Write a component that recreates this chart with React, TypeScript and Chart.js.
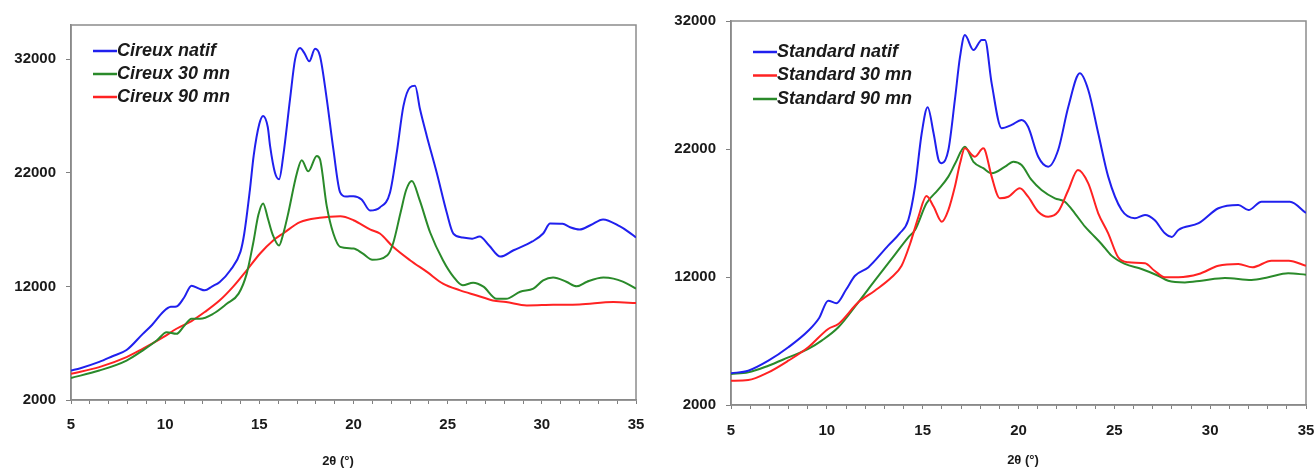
import React, { useEffect, useRef } from "react";
import { Chart, registerables } from "chart.js";

Chart.register(...registerables);

// ---------- Data ----------
const xTickLabels = [5, 10, 15, 20, 25, 30, 35];
const xMinorTicks = [5, 6, 7, 8, 9, 10, 11, 12, 13, 14, 15, 16, 17, 18, 19, 20, 21, 22, 23, 24, 25, 26, 27, 28, 29, 30, 31, 32, 33, 34, 35];
const yTickValues = [2000, 12000, 22000, 32000];
const xTitle = "2θ (°)";

const cireuxNatif: [number, number][] = [
  [5, 4600], [5.5, 4800], [6.5, 5350], [7.2, 5850], [7.95, 6400], [8.8, 7800], [9.3, 8600], [9.9, 9770],
  [10.3, 10200], [10.6, 10230], [11.0, 11000], [11.4, 12060], [11.8, 11800], [12.1, 11650], [12.5, 12000],
  [12.9, 12390], [13.45, 13400], [14.0, 15060], [14.2, 16650], [14.5, 20500], [14.7, 23500], [15.0, 26300],
  [15.2, 27000], [15.45, 26000], [15.57, 24360], [15.83, 22000], [16.05, 21420], [16.27, 23480], [16.63, 28480],
  [16.9, 32000], [17.16, 32980], [17.4, 32500], [17.65, 31800], [17.96, 32900], [18.22, 32270], [18.58, 28480],
  [18.93, 24070], [19.29, 20270], [19.6, 19900], [20.0, 19940], [20.43, 19650], [20.88, 18680], [21.4, 18950],
  [21.94, 20270], [22.3, 23800], [22.65, 27860], [23.0, 29510], [23.27, 29650], [23.53, 27600], [23.89, 25240],
  [24.42, 22000], [24.95, 18500], [25.3, 16650], [25.8, 16300], [26.3, 16200], [26.7, 16390], [27.2, 15600],
  [27.8, 14620], [28.5, 15180], [29.5, 15950], [30.07, 16650], [30.44, 17530], [31.1, 17500], [31.5, 17200],
  [32.0, 17000], [32.6, 17400], [33.25, 17890], [34.15, 17270], [34.6, 16800], [35, 16300],
];

const cireux30: [number, number][] = [
  [5, 3940], [6.5, 4590], [7.95, 5470], [8.8, 6350], [9.55, 7230], [10.08, 7970], [10.6, 7820], [11.0, 8500],
  [11.4, 9150], [11.85, 9150], [12.55, 9590], [13.27, 10470], [13.9, 11360], [14.33, 13120], [14.67, 15770],
  [14.95, 18300], [15.2, 19300], [15.45, 18000], [15.7, 16600], [16.05, 15600], [16.25, 16500], [16.5, 18180],
  [17.0, 22000], [17.25, 23100], [17.6, 22120], [18.05, 23480], [18.22, 23180], [18.58, 19060], [18.93, 16650],
  [19.29, 15480], [20.0, 15330], [20.5, 14880], [21.0, 14350], [21.8, 14740], [22.1, 15770], [22.5, 18500],
  [22.8, 20500], [23.1, 21270], [23.5, 19650], [24.07, 16740], [24.75, 14300], [25.3, 12860], [25.8, 12090],
  [26.35, 12320], [26.9, 11970], [27.6, 10910], [28.1, 10910], [28.85, 11530], [29.55, 11800], [30.07, 12530],
  [30.6, 12770], [31.3, 12410], [31.85, 12000], [32.4, 12410], [33.27, 12770], [33.8, 12680], [34.3, 12410],
  [35, 11800],
];

const cireux90: [number, number][] = [
  [5, 4300], [6.5, 4890], [7.95, 5770], [8.8, 6500], [9.9, 7530], [10.6, 8270], [11.4, 8950], [12.1, 9740],
  [12.9, 10770], [13.6, 11950], [14.33, 13410], [15.04, 14890], [15.75, 16060], [16.3, 16700], [17.16, 17650],
  [18.2, 18030], [19.3, 18170], [20.0, 17820], [20.9, 17000], [21.4, 16650], [22.1, 15480], [23.0, 14300],
  [23.9, 13270], [24.75, 12240], [25.66, 11650], [26.55, 11200], [27.4, 10760], [28.1, 10620], [29.2, 10320],
  [30.6, 10380], [32.0, 10410], [33.8, 10620], [35, 10530],
];

const standardNatif: [number, number][] = [
  [5, 4480], [5.9, 4680], [6.95, 5460], [7.99, 6510], [9.03, 7800], [9.6, 8800], [10.07, 10150], [10.5, 9950],
  [11.0, 11000], [11.47, 12100], [12.16, 12750], [13.2, 14450], [13.8, 15400], [14.25, 16450], [14.6, 19050],
  [14.95, 23230], [15.26, 25260], [15.57, 23230], [15.83, 21140], [16.0, 20880], [16.34, 21920], [16.68, 25830],
  [16.95, 29210], [17.2, 30900], [17.65, 29730], [18.08, 30520], [18.25, 30520], [18.6, 27130], [19.12, 23620],
  [19.64, 23880], [20.16, 24270], [20.5, 23740], [21.03, 21400], [21.55, 20620], [22.07, 21920], [22.6, 25300],
  [23.2, 27910], [23.64, 26610], [24.16, 23230], [24.68, 19840], [25.38, 17230], [26.07, 16590], [26.6, 16840],
  [27.1, 16450], [27.64, 15410], [28.0, 15130], [28.34, 15670], [29.4, 16200], [30.43, 17370], [31.47, 17630],
  [32.0, 17230], [32.68, 17880], [33.38, 17880], [34.16, 17880], [35, 17000],
];

const standard30: [number, number][] = [
  [5, 3900], [5.9, 3950], [6.95, 4550], [7.99, 5460], [9.03, 6510], [10.07, 7940], [10.6, 8330], [11.64, 10020],
  [12.5, 10930], [13.38, 11980], [13.9, 12880], [14.34, 14580], [14.78, 16710], [15.2, 18330], [15.57, 17500],
  [16.0, 16320], [16.34, 17230], [16.68, 19050], [16.95, 20880], [17.2, 22050], [17.73, 21400], [18.16, 22050],
  [18.25, 21920], [18.6, 19840], [19.03, 18150], [19.47, 18270], [20.07, 18930], [20.5, 18270], [21.03, 17100],
  [21.55, 16710], [22.07, 17100], [22.6, 18800], [23.1, 20360], [23.64, 19320], [24.16, 16980], [24.68, 15410],
  [25.2, 13540], [25.73, 13150], [26.6, 13070], [27.1, 12490], [27.64, 11980], [28.34, 11980], [29.4, 12230],
  [30.43, 12880], [31.47, 13020], [32.2, 12760], [33.2, 13270], [34.1, 13270], [35, 12880],
];

const standard90: [number, number][] = [
  [5, 4420], [5.9, 4550], [6.95, 5070], [7.99, 5720], [9.03, 6380], [9.73, 7030], [10.6, 8070], [11.64, 10020],
  [12.5, 11710], [13.38, 13410], [14.25, 15100], [14.6, 15670], [15.2, 17760], [15.8, 18800], [16.34, 19840],
  [16.7, 20880], [17.2, 22180], [17.65, 21000], [18.16, 20500], [18.6, 20100], [19.3, 20620], [19.73, 21010],
  [20.16, 20750], [20.68, 19580], [21.2, 18800], [21.9, 18150], [22.42, 17880], [22.94, 16980], [23.47, 15930],
  [23.8, 15410], [24.33, 14580], [24.85, 13670], [25.55, 13020], [26.42, 12630], [27.29, 12100], [27.81, 11710],
  [28.68, 11580], [29.55, 11710], [30.77, 11920], [32.16, 11770], [33.03, 11980], [34.07, 12290], [35, 12180],
];

// ---------- Styling ----------
const BLUE = "#2020ee";
const GREEN = "#2a8a2a";
const RED = "#ff2222";
const FONT = "'Liberation Sans', Arial, sans-serif";
const AXIS_GRAY = "#808080";

type Series = { label: string; data: [number, number][]; color: string };

type PanelSpec = {
  series: Series[];
  yMax: number;
  padTop: number;
  padRight: number;
  yWidth: number;
  xHeight: number;
  xLabelPad: number;
  legendX: number;
  legendY: number;
  legendStep: number;
  titleX: number;
  titleY: number;
};

const framePlugin = {
  id: "plotFrame",
  beforeDatasetsDraw(chart: any) {
    const { ctx, chartArea } = chart;
    ctx.save();
    ctx.strokeStyle = "#8c8c8c";
    ctx.lineWidth = 1.5;
    ctx.strokeRect(chartArea.left, chartArea.top, chartArea.right - chartArea.left, chartArea.bottom - chartArea.top);
    ctx.restore();
  },
};

const overlayPlugin = {
  id: "overlayText",
  afterDraw(chart: any, _args: any, opts: any) {
    const { ctx } = chart;
    ctx.save();
    // legend
    ctx.font = `italic bold 18px ${FONT}`;
    ctx.textBaseline = "middle";
    ctx.textAlign = "left";
    chart.data.datasets.forEach((ds: any, i: number) => {
      const y = opts.legendY + i * opts.legendStep;
      ctx.strokeStyle = ds.borderColor;
      ctx.lineWidth = 2.5;
      ctx.beginPath();
      ctx.moveTo(opts.legendX, y);
      ctx.lineTo(opts.legendX + 24, y);
      ctx.stroke();
      ctx.fillStyle = "#1a1a1a";
      ctx.fillText(ds.label, opts.legendX + 24, y);
    });
    // x-axis title
    ctx.font = `bold 13px ${FONT}`;
    ctx.textAlign = "center";
    ctx.fillStyle = "#1a1a1a";
    ctx.fillText(opts.title, opts.titleX, opts.titleY);
    ctx.restore();
  },
};

function makeConfig(spec: PanelSpec): any {
  return {
    type: "line",
    data: {
      datasets: spec.series.map((s) => ({
        label: s.label,
        data: s.data.map(([x, y]) => ({ x, y })),
        borderColor: s.color,
        backgroundColor: s.color,
        borderWidth: 2,
        pointRadius: 0,
        fill: false,
        cubicInterpolationMode: "monotone",
      })),
    },
    options: {
      animation: false,
      responsive: false,
      devicePixelRatio: 1,
      layout: { padding: { top: spec.padTop, right: spec.padRight, left: 0, bottom: 0 } },
      plugins: {
        legend: { display: false },
        tooltip: { enabled: false },
        overlayText: {
          legendX: spec.legendX,
          legendY: spec.legendY,
          legendStep: spec.legendStep,
          title: xTitle,
          titleX: spec.titleX,
          titleY: spec.titleY,
        },
      },
      scales: {
        x: {
          type: "linear",
          min: 5,
          max: 35,
          afterBuildTicks: (axis: any) => {
            axis.ticks = xMinorTicks.map((v) => ({ value: v }));
          },
          afterFit: (scale: any) => {
            scale.height = spec.xHeight;
            scale.paddingLeft = 0;
            scale.paddingRight = 0;
          },
          ticks: {
            autoSkip: false,
            maxRotation: 0,
            padding: spec.xLabelPad,
            color: "#1a1a1a",
            font: { family: FONT, size: 15, weight: "bold" },
            callback: (v: number) => (xTickLabels.includes(v) ? String(v) : ""),
          },
          grid: { display: true, drawOnChartArea: false, drawTicks: true, tickLength: 4, color: AXIS_GRAY, lineWidth: 1 },
          border: { display: true, color: AXIS_GRAY, width: 1.5 },
        },
        y: {
          type: "linear",
          min: 2000,
          max: spec.yMax,
          afterBuildTicks: (axis: any) => {
            axis.ticks = yTickValues.map((v) => ({ value: v }));
          },
          afterFit: (scale: any) => {
            scale.width = spec.yWidth;
            scale.paddingTop = 0;
            scale.paddingBottom = 0;
          },
          ticks: {
            padding: 10,
            color: "#1a1a1a",
            font: { family: FONT, size: 15, weight: "bold" },
            callback: (v: number) => String(v),
          },
          grid: { display: true, drawOnChartArea: false, drawTicks: true, tickLength: 5, color: AXIS_GRAY, lineWidth: 1 },
          border: { display: true, color: AXIS_GRAY, width: 1.5 },
        },
      },
    },
    plugins: [framePlugin, overlayPlugin],
  };
}

const leftSpec: PanelSpec = {
  series: [
    { label: "Cireux natif", data: cireuxNatif, color: BLUE },
    { label: "Cireux 30 mn", data: cireux30, color: GREEN },
    { label: "Cireux 90 mn", data: cireux90, color: RED },
  ],
  yMax: 35000,
  padTop: 25,
  padRight: 14,
  yWidth: 71,
  xHeight: 68,
  xLabelPad: 12,
  legendX: 93,
  legendY: 51,
  legendStep: 23,
  titleX: 338,
  titleY: 461,
};

const rightSpec: PanelSpec = {
  series: [
    { label: "Standard natif", data: standardNatif, color: BLUE },
    { label: "Standard 30 mn", data: standard30, color: RED },
    { label: "Standard 90 mn", data: standard90, color: GREEN },
  ],
  yMax: 32000,
  padTop: 21,
  padRight: 10,
  yWidth: 81,
  xHeight: 63,
  xLabelPad: 13,
  legendX: 103,
  legendY: 52,
  legendStep: 23.5,
  titleX: 373,
  titleY: 460,
};

function Panel({ spec, left, width }: { spec: PanelSpec; left: number; width: number }) {
  const ref = useRef<HTMLCanvasElement | null>(null);
  useEffect(() => {
    if (!ref.current) return;
    const chart = new Chart(ref.current, makeConfig(spec));
    return () => chart.destroy();
  }, [spec]);
  return (
    <canvas
      ref={ref}
      width={width}
      height={468}
      style={{ position: "absolute", left, top: 0, width, height: 468, display: "block" }}
    />
  );
}

export default function App() {
  return (
    <div style={{ position: "fixed", left: 0, top: 0, width: 1316, height: 468, background: "#ffffff", overflow: "hidden" }}>
      <Panel spec={leftSpec} left={0} width={650} />
      <Panel spec={rightSpec} left={650} width={666} />
    </div>
  );
}
